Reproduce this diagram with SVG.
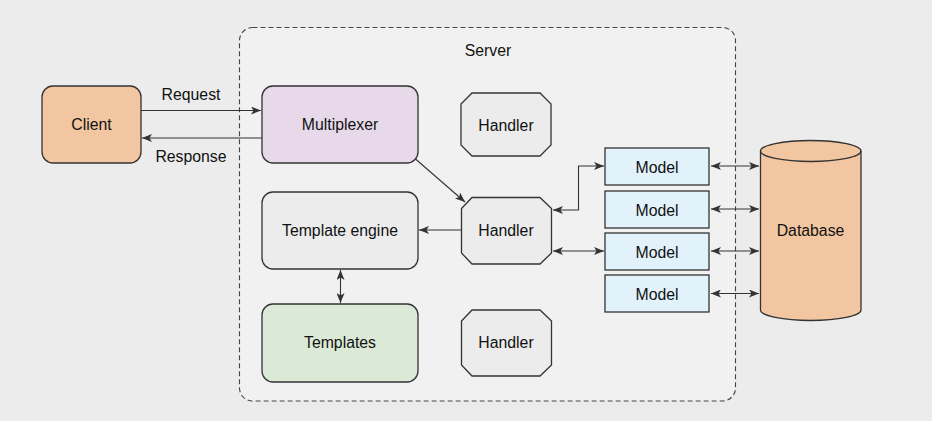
<svg xmlns="http://www.w3.org/2000/svg" width="932" height="421" viewBox="0 0 932 421">
  <style>
    text { font-family: "Liberation Sans", Arial, sans-serif; font-size: 15.8px; fill: #111; text-anchor: middle; dominant-baseline: central; }
    .box { stroke: #333; stroke-width: 1.3; }
    .wire { fill: none; stroke: #333; stroke-width: 1.1; }
  </style>
  <defs>
    <marker id="head" viewBox="0 0 10 8" refX="10" refY="4" markerWidth="10" markerHeight="8" markerUnits="userSpaceOnUse" orient="auto-start-reverse">
      <path d="M0,0 L10,4 L0,8 L2.5,4 Z" fill="#333"/>
    </marker>
  </defs>

  <rect width="932" height="421" fill="#ececec"/>

  <!-- server boundary -->
  <g id="server">
    <rect x="239.5" y="27.5" width="496" height="373.5" rx="13" fill="#f1f1f1" stroke="#444" stroke-width="1.1" stroke-dasharray="5,3"/>
    <text x="488" y="50">Server</text>
  </g>

  <g id="client">
    <rect class="box" x="42" y="86" width="99" height="77" rx="11" fill="#f2c6a0"/>
    <text x="91.5" y="124.5">Client</text>
  </g>

  <g id="multiplexer">
    <rect class="box" x="262" y="86" width="156" height="77" rx="11" fill="#e7d9ea"/>
    <text x="340" y="124.5">Multiplexer</text>
  </g>

  <g id="template-engine">
    <rect class="box" x="262" y="192" width="156" height="77" rx="11" fill="#ececec"/>
    <text x="340" y="230">Template engine</text>
  </g>

  <g id="templates">
    <rect class="box" x="262" y="304" width="156" height="78" rx="11" fill="#dbead7"/>
    <text x="340" y="342">Templates</text>
  </g>

  <g id="handler-top">
    <polygon class="box" points="472,93 540,93 551,104 551,145 540,156 472,156 461,145 461,104" fill="#ececec"/>
    <text x="506" y="125">Handler</text>
  </g>

  <g id="handler-mid">
    <polygon class="box" points="472,197.5 540,197.5 551.5,208.5 551.5,253 540,264 472,264 461.5,253 461.5,208.5" fill="#ececec"/>
    <text x="506" y="230">Handler</text>
  </g>

  <g id="handler-bottom">
    <polygon class="box" points="472,310 540,310 551.5,321 551.5,365 540,376 472,376 461.5,365 461.5,321" fill="#ececec"/>
    <text x="506" y="342">Handler</text>
  </g>

  <g id="model-1">
    <rect class="box" x="605" y="148" width="104" height="37" fill="#e1f2fb"/>
    <text x="657" y="167">Model</text>
  </g>
  <g id="model-2">
    <rect class="box" x="605" y="191" width="104" height="37" fill="#e1f2fb"/>
    <text x="657" y="210">Model</text>
  </g>
  <g id="model-3">
    <rect class="box" x="605" y="233" width="104" height="37" fill="#e1f2fb"/>
    <text x="657" y="252">Model</text>
  </g>
  <g id="model-4">
    <rect class="box" x="605" y="275" width="104" height="37" fill="#e1f2fb"/>
    <text x="657" y="294">Model</text>
  </g>

  <g id="database">
    <path class="box" d="M760.5,151 A50.25,10.5 0 0 1 861,151 L861,310 A50.25,10.5 0 0 1 760.5,310 Z" fill="#f2c6a0"/>
    <path class="box" d="M760.5,151 A50.25,10.5 0 0 0 861,151" fill="none"/>
    <text x="810.5" y="230.5">Database</text>
  </g>

  <g id="connectors">
    <line class="wire" x1="141" y1="110.5" x2="261" y2="110.5" marker-end="url(#head)"/>
    <text x="191" y="94.5">Request</text>
    <line class="wire" x1="262" y1="138" x2="142" y2="138" marker-end="url(#head)"/>
    <text x="191" y="156">Response</text>

    <line class="wire" x1="415.5" y1="159" x2="465" y2="202" marker-end="url(#head)"/>
    <line class="wire" x1="461.5" y1="230" x2="419" y2="230" marker-end="url(#head)"/>
    <line class="wire" x1="340.5" y1="270" x2="340.5" y2="303" marker-start="url(#head)" marker-end="url(#head)"/>

    <polyline class="wire" points="553,210 578.5,210 578.5,166 604,166" marker-start="url(#head)" marker-end="url(#head)"/>
    <line class="wire" x1="553" y1="251" x2="604" y2="251" marker-start="url(#head)" marker-end="url(#head)"/>

    <line class="wire" x1="711" y1="166" x2="759" y2="166" marker-start="url(#head)" marker-end="url(#head)"/>
    <line class="wire" x1="711" y1="209" x2="759" y2="209" marker-start="url(#head)" marker-end="url(#head)"/>
    <line class="wire" x1="711" y1="251" x2="759" y2="251" marker-start="url(#head)" marker-end="url(#head)"/>
    <line class="wire" x1="711" y1="293.5" x2="759" y2="293.5" marker-start="url(#head)" marker-end="url(#head)"/>
  </g>
</svg>
